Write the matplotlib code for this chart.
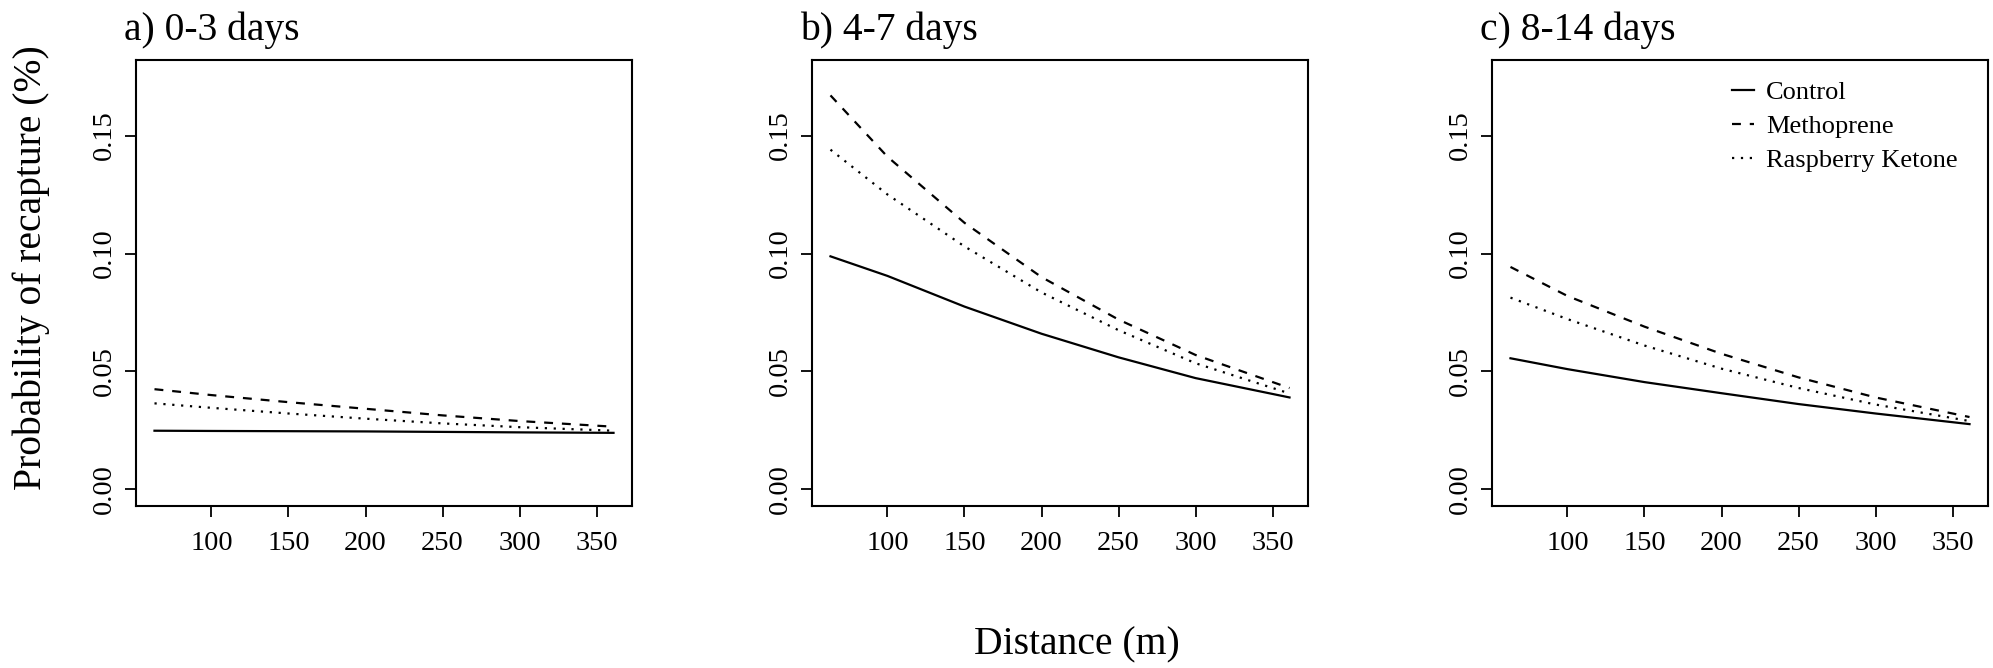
import matplotlib
matplotlib.use("Agg")
import matplotlib.pyplot as plt

plt.rcParams['font.family'] = ['Liberation Serif', 'DejaVu Serif']

# distance (m) at which the fitted curves were read
distance = [63, 100, 150, 200, 250, 300, 361]

panels = ["a) 0-3 days", "b) 4-7 days", "c) 8-14 days"]

# probability of recapture
control = [
    [0.0249, 0.0248, 0.0247, 0.0246, 0.0244, 0.0242, 0.0240],
    [0.0988, 0.0905, 0.0775, 0.0660, 0.0560, 0.0472, 0.0390],
    [0.0556, 0.0510, 0.0455, 0.0408, 0.0362, 0.0322, 0.0277],
]
methoprene = [
    [0.0425, 0.0400, 0.0370, 0.0342, 0.0314, 0.0290, 0.0266],
    [0.1670, 0.1410, 0.1130, 0.0900, 0.0720, 0.0570, 0.0430],
    [0.0943, 0.0820, 0.0690, 0.0575, 0.0475, 0.0390, 0.0307],
]
raspberry = [
    [0.0365, 0.0346, 0.0322, 0.0300, 0.0280, 0.0264, 0.0249],
    [0.1440, 0.1250, 0.1030, 0.0835, 0.0675, 0.0535, 0.0407],
    [0.0813, 0.0722, 0.0610, 0.0512, 0.0430, 0.0360, 0.0290],
]

xticks = [100, 150, 200, 250, 300, 350]
yticks = [0.00, 0.05, 0.10, 0.15]

W, H = 1993, 668
fig = plt.figure(figsize=(W / 100, H / 100), dpi=100)

lefts = [136, 812, 1492]
width = 496
top, bottom = 60, 506

dash = (0, (4, 4))   # R lty=2
dot = (0, (1, 3))    # R lty=3

for i in range(3):
    ax = fig.add_axes([lefts[i] / W, 1 - bottom / H, width / W, (bottom - top) / H])
    ax.plot(distance, control[i], color='black', lw=1.6, ls='-', label='Control')
    ax.plot(distance, methoprene[i], color='black', lw=1.6, ls=dash, label='Methoprene')
    ax.plot(distance, raspberry[i], color='black', lw=1.6, ls=dot, label='Raspberry Ketone')
    ax.set_xlim(51, 373)
    ax.set_ylim(-0.007, 0.182)
    ax.set_xticks(xticks)
    ax.set_yticks(yticks)
    ax.set_yticklabels(["%.2f" % v for v in yticks], rotation=90, va='center')
    ax.tick_params(axis='both', length=8, width=1.3, labelsize=20.5, direction='out')
    ax.tick_params(axis='x', pad=10)
    ax.tick_params(axis='y', pad=6)
    for s in ax.spines.values():
        s.set_linewidth(1.5)
    ax.text(-12 / width, (bottom - 30) / (bottom - top), panels[i], transform=ax.transAxes,
            ha='left', va='center', fontsize=28.5)
    if i == 2:
        ax.legend(loc='upper left', bbox_to_anchor=(0.484, 0.953), frameon=False,
                  fontsize=19, handlelength=0.85, handletextpad=0.45,
                  labelspacing=0.4, borderpad=0, borderaxespad=0)

fig.text(31 / W, 1 - 268 / H, "Probability of recapture (%)", rotation=90,
         ha='center', va='center', fontsize=28.5)
fig.text(1077 / W, 1 - 645 / H, "Distance (m)", ha='center', va='center', fontsize=28.5)

fig.savefig("out.png", dpi=100)
